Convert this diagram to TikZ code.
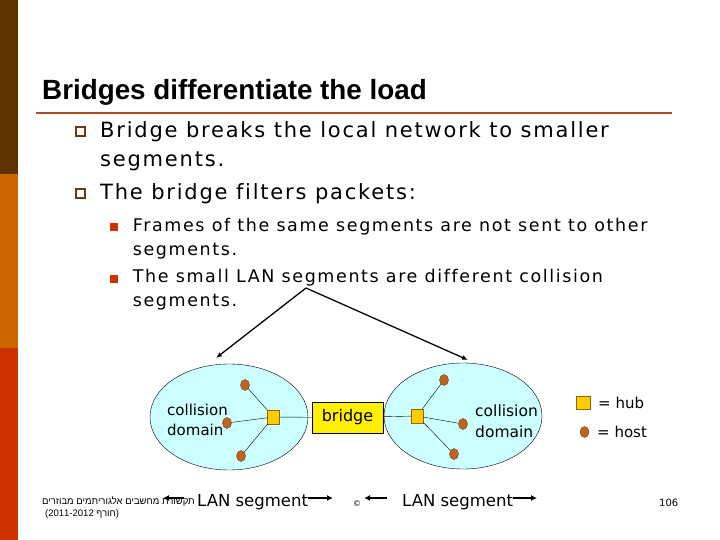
\documentclass[tikz,border=0pt]{standalone}
\usepackage{fontspec}
\setmainfont{DejaVu Sans}
\newfontfamily\titlefont{Liberation Sans}
\newfontfamily\bodyfont[LetterSpace=8.5, Ligatures=NoCommon]{DejaVu Sans}
\newfontfamily\subfont[LetterSpace=9.2, Ligatures=NoCommon]{DejaVu Sans}
\newfontfamily\hebfont[Script=Hebrew]{Liberation Sans}
\TeXXeTstate=1
\usepackage{tikz}
\usetikzlibrary{arrows.meta, positioning, shapes.geometric}
\definecolor{barA}{RGB}{95,51,0}
\definecolor{barB}{RGB}{204,102,0}
\definecolor{barC}{RGB}{204,51,0}
\definecolor{rust}{RGB}{178,74,36}
\definecolor{bulbrown}{RGB}{102,60,20}
\definecolor{bulred}{RGB}{204,51,0}
\definecolor{domfill}{RGB}{204,255,255}
\definecolor{hubfill}{RGB}{255,204,0}
\definecolor{hubedge}{RGB}{150,100,0}
\definecolor{hostfill}{RGB}{190,100,30}
\definecolor{hostedge}{RGB}{110,55,10}
\definecolor{brfill}{RGB}{255,240,0}

\begin{document}
\begin{tikzpicture}[x=1pt, y=-1pt, inner sep=0pt,
  txt/.style={anchor=base west, align=left},
  sqh/.style={draw=bulbrown, line width=2pt, fill=white, minimum size=9pt},
  sqf/.style={fill=bulred, minimum size=8pt},
  dom/.style={draw, ellipse, fill=domfill, minimum width=158pt, minimum height=106pt},
  hubbox/.style={draw=hubedge, fill=hubfill, minimum width=12pt, minimum height=14pt},
  hostdot/.style={draw=hostedge, ellipse, fill=hostfill, minimum width=9pt, minimum height=11pt},
  a/.style={-{Latex[length=6pt, width=5pt]}, line width=1.3pt},
  la/.style={-{Latex[length=6pt, width=6pt]}, line width=2pt}]
\useasboundingbox (0,0) rectangle (720,540);
% side bar
\fill[barA] (0,0) rectangle (18,174);
\fill[barB] (0,174) rectangle (18,348);
\fill[barC] (0,348) rectangle (18,540);

% title and text (multi-line nodes sit on their last baseline)
\node[txt, font=\titlefont\bfseries\fontsize{27.8}{32}\selectfont] (title) at (42,100) {Bridges differentiate the load};
\draw[rust, line width=2pt] (36,113.5) -- (672,113.5);
\node[sqh] (b1) at (80.5,132) {};
\node[txt, font=\bodyfont\fontsize{21}{28.7}\selectfont] (p1) at (100,166.7) {Bridge breaks the local network to smaller\\segments.};
\node[sqh] (b2) at (80.5,193.5) {};
\node[txt, font=\bodyfont\fontsize{21}{28.7}\selectfont] (p2) at (100,200) {The bridge filters packets:};
\node[sqf] (b3) at (114,226.7) {};
\node[txt, font=\subfont\fontsize{17.5}{23.3}\selectfont] (s1) at (132.7,255) {Frames of the same segments are not sent to other\\segments.};
\node[sqf] (b4) at (114,278.5) {};
\node[txt, font=\subfont\fontsize{17.5}{24}\selectfont] (s2) at (132.7,306.7) {The small LAN segments are different collision\\segments.};

% arrows to the domains
\coordinate (apex) at (306,288);
\coordinate (tipL) at (216,358);
\coordinate (tipR) at (468,360);
\draw[a] (apex) -- (tipL);
\draw[a] (apex) -- (tipR);

% collision domains
\node[dom] (domL) at (229,417) {};
\node[dom] (domR) at (463,416) {};
\node[txt, font=\fontsize{15}{20}\selectfont] (cdL) at (167,435) {collision\\domain};
\node[txt, font=\fontsize{15.5}{21}\selectfont] (cdR) at (475,437) {collision\\domain};
\node[draw, fill=brfill, minimum width=71pt, minimum height=31pt, font=\fontsize{16}{18}\selectfont] (br) at (347.5,417.5) {bridge};
\node[hubbox] (hubL) at (273.5,417) {};
\node[hubbox] (hubR) at (417,416) {};
\node[hostdot] (hL1) at (245,385) {};
\node[hostdot] (hL2) at (227,423) {};
\node[hostdot] (hL3) at (241,456) {};
\node[hostdot] (hR1) at (444,380) {};
\node[hostdot] (hR2) at (463,424) {};
\node[hostdot] (hR3) at (454,454) {};
\draw (hubL) -- (br);
\draw (br) -- (hubR);
\draw (hubL) -- (hL1); \draw (hubL) -- (hL2); \draw (hubL) -- (hL3);
\draw (hubR) -- (hR1); \draw (hubR) -- (hR2); \draw (hubR) -- (hR3);

% legend
\node[hubbox, minimum width=14pt, minimum height=13pt] (keyHub) at (583.5,403) {};
\node[txt, font=\fontsize{15}{18}\selectfont] (keyHubT) at (598,408) {= hub};
\node[hostdot] (keyHost) at (584.5,432) {};
\node[txt, font=\fontsize{15}{18}\selectfont] (keyHostT) at (597,437) {= host};

% footer
\node[txt, font=\hebfont\fontsize{9.5}{11}\selectfont] (heb1) at (42,504) {\beginR תקשורת מחשבים אלגוריתמים מבוזרים\endR};
\node[txt, font=\hebfont\fontsize{9.5}{11}\selectfont] (heb2) at (45,516) {\beginR(חורף \beginL2011-2012\endL)\endR};
\node[txt, font=\fontsize{16.5}{18}\selectfont] (lanL) at (197,506) {LAN segment};
\node[txt, font=\fontsize{16.5}{18}\selectfont] (lanR) at (402,506) {LAN segment};
\node[txt, font=\fontsize{8}{10}\selectfont] (copy) at (353,506) {©};
\node[txt, font=\fontsize{10}{12}\selectfont] (pg) at (659,506) {106};
\coordinate (lanLa) at (184,498);
\coordinate (lanLb) at (163,498);
\coordinate (lanLe) at (333,498);
\coordinate (lanRa) at (387,498);
\coordinate (lanRb) at (364,498);
\coordinate (lanRe) at (537,498);
\draw[la] (lanLa) -- (lanLb);
\draw[la] (lanL.east |- lanLe) -- (lanLe);
\draw[la] (lanRa) -- (lanRb);
\draw[la] (lanR.east |- lanRe) -- (lanRe);
\end{tikzpicture}
\end{document}
